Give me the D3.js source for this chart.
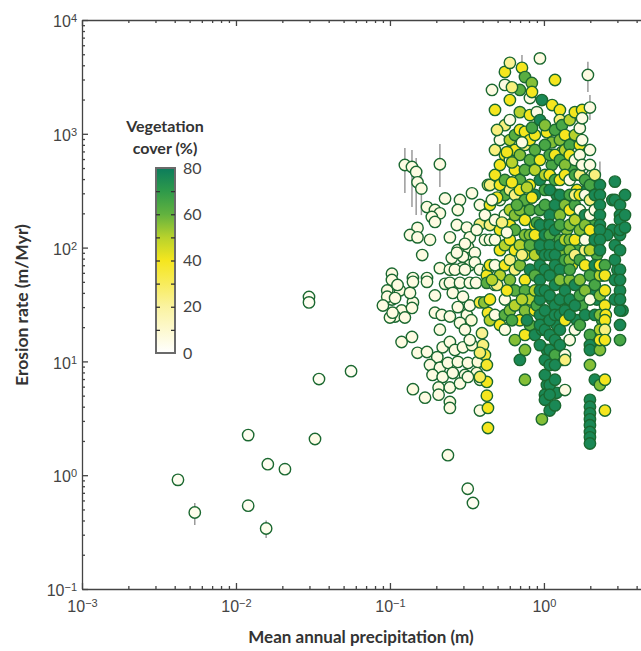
<!DOCTYPE html>
<html><head><meta charset="utf-8">
<script src="https://cdn.jsdelivr.net/npm/d3@7"></script>
<style>
body{margin:0;background:#fff;}
svg{display:block;font-family:Lato,"Open Sans",sans-serif;}
</style>
</head><body>
<svg id="chart" width="641" height="651"></svg>
<script>
// ---- tick labels ----
const xTickValues = [0.001, 0.01, 0.1, 1];
const xTickExponents = ["\u22123", "\u22122", "\u22121", "0"];
const yTickValues = [0.1, 1, 10, 100, 1000, 10000];
const yTickExponents = ["\u22121", "0", "1", "2", "3", "4"];
const vegTicks = [0, 20, 40, 60, 80];
const vegStops = [0, 10, 20, 30, 40, 50, 60, 70, 80];
const vegColors = ["#ffffff", "#fdf9cf", "#faf3a0", "#f8ec5c", "#f5e61e", "#b8d22c", "#62b23f", "#2e9a4a", "#0c7c5c"];

// ---- data: [precipitation (m), erosion rate (m/Myr), vegetation cover (%)] ----
const aridSites = [
[0.0042,0.91,3],[0.0054,0.47,4],[0.012,2.25,3],[0.012,0.54,3],[0.0161,1.25,3],[0.0208,1.13,3],[0.0157,0.34,4],
[0.0298,36.8,3],[0.0298,33,3],[0.0326,2.08,5],[0.0346,7.0,3],[0.0559,8.2,3],[0.238,1.5,5],[0.32,0.76,3],[0.346,0.57,3]];

const highlandSites = [
[0.125,532,6],[0.139,511,6],[0.148,462,6],[0.151,375,6],[0.160,330,6],[0.211,540,6],[0.228,270,6],[0.285,262,6],
[0.341,300,6],[0.174,227,6],[0.196,214,6],[0.211,200,6],[0.187,186,6],[0.196,168,6],[0.151,149,6],[0.135,129,6],
[0.151,123,6],[0.182,117,6],[0.162,86,6],[0.245,123,6],[0.276,214,6],[0.272,158,6],[0.316,150,6],[0.330,123,6],
[0.321,101,6],[0.276,95,6],[0.252,81,6],[0.298,83,6],[0.330,70,6],[0.103,59,6],[0.141,54,6],[0.174,54,6],
[0.211,66,6],[0.228,48,6],[0.307,108,6],[0.272,90,6],[0.356,90,6],[0.356,74,6],[0.384,64,6],[0.294,66,6],
[0.245,64,6],[0.433,64,25],[0.426,57,40],[0.384,237,6],[0.384,160,25],[0.366,143,6],[0.433,355,25],[0.414,117,6],[0.414,193,6]];

const basinSites = [
[0.096,42,6],[0.103,52,6],[0.116,42,6],[0.103,35,6],[0.096,37,6],[0.108,36,6],[0.141,33,6],[0.119,28,6],
[0.108,24.8,6],[0.125,24.3,6],[0.100,24.3,6],[0.135,40,6],[0.139,29.5,6],[0.141,50,6],[0.174,50,6],
[0.119,14.8,6],[0.139,16.4,6],[0.104,26.8,6],[0.090,31,6],[0.112,47,6]];

const piedmontSites = [
[0.196,26.8,6],[0.217,25.6,6],[0.245,24.8,6],[0.276,30,6],[0.316,25.6,6],[0.338,23,8],[0.285,21.8,6],[0.307,19,6],
[0.151,11.9,6],[0.174,12.1,6],[0.203,10.9,6],[0.220,13.3,6],[0.245,14.8,6],[0.264,12.6,6],[0.298,13.3,6],[0.341,13.9,8],
[0.182,9.3,6],[0.211,8.8,6],[0.238,9.7,6],[0.276,9.9,6],[0.321,9.7,6],[0.372,9.9,8],[0.189,7.6,6],[0.220,7.3,6],
[0.256,7.9,6],[0.307,7.6,6],[0.366,7.9,8],[0.141,5.7,6],[0.169,4.8,6],[0.207,5.9,6],[0.245,5.9,6],[0.285,6.4,6],
[0.321,7.3,6],[0.384,6.9,6],[0.207,5.1,6],[0.245,4.4,6],[0.245,3.9,6],[0.384,3.7,6],[0.245,49,6],[0.285,49,6],
[0.330,49,6],[0.362,49,6],[0.256,40,6],[0.298,37,6],[0.330,31,6],[0.196,38,6],[0.211,19,6],[0.330,15.4,6],
[0.264,64,6],[0.307,64,6],
[0.396,17.7,22],[0.402,13.9,25],[0.414,11.4,35],[0.426,9.3,38],[0.426,6.6,40],[0.426,5.0,40],[0.433,3.9,40],
[0.433,2.6,40],[0.384,11.9,28],[0.384,7.3,30],[0.384,33,35],[0.433,26.8,38],[0.426,49,62],[0.41,33,55]];

const transitionSites = [
[0.46,2430,6],[0.446,237,40],[0.446,158,25],[0.446,70,40],[0.446,355,25],[0.446,117,6],[0.446,35,40],[0.446,23,50],
[0.481,1620,40],[0.481,721,25],[0.481,175,6],[0.481,117,6],[0.481,47,6],[0.481,25.6,6],[0.481,435,40],[0.481,70,6],
[0.518,532,40],[0.518,355,40],[0.518,143,40],[0.518,57,50],[0.518,262,6],[0.518,95,40],[0.518,881,6],[0.518,20.9,40],
[0.558,3500,40],[0.558,2690,6],[0.558,393,62],[0.558,290,62],[0.558,193,6],[0.558,105,50],[0.558,70,40],[0.558,35,6],
[0.558,25.6,62],[0.558,19,6],[0.558,1190,25],[0.558,652,40],
[0.601,4200,22],[0.601,1980,40],[0.601,1320,6],[0.601,881,50],[0.601,214,50],[0.601,158,40],[0.601,52,56],[0.601,28,56],
[0.601,589,6],[0.601,117,40],[0.601,78,25],[0.601,321,25],
[0.648,975,62],[0.648,481,40],[0.648,290,25],[0.648,143,62],[0.648,42,62],[0.648,31,50],[0.648,15.4,56],[0.648,95,40],
[0.648,193,56],[0.648,64,25],[0.648,721,40],
[0.72,3800,40],[0.698,2430,62],[0.698,1550,50],[0.698,393,62],[0.698,321,40],[0.698,214,56],[0.698,105,50],[0.698,70,56],
[0.698,23,40],[0.698,10.3,76],[0.698,1080,40],[0.698,652,56],
[0.753,3150,62],[0.753,1040,40],[0.753,481,62],[0.753,262,62],[0.753,175,40],[0.753,86,40],[0.753,52,40],[0.753,42,62],
[0.753,28,56],[0.753,12.6,56],[0.753,6.9,56],[0.753,17.1,40],[0.753,798,25],[0.753,129,56],
[0.811,2060,6],[0.811,1460,40],[0.811,214,62],[0.811,129,56],[0.811,105,62],[0.811,64,76],[0.811,35,50],[0.811,355,40],
[0.811,589,62],[0.811,20.9,62],[0.811,881,40],
[0.834,2800,56],[0.874,975,40],[0.874,158,40],[0.874,86,50],[0.874,57,62],[0.874,42,50],[0.874,28,40],[0.874,129,40],
[0.874,290,76],[0.874,481,50],[0.874,721,62],[0.874,17.1,76]];

const humidSites = [
[0.942,4600,6],[0.97,1980,76],[0.90,1550,6],[0.942,1320,76],[0.942,393,76],[0.942,105,76],[0.942,70,76],[0.942,52,76],
[0.942,35,76],[0.942,25.6,76],[0.942,13.9,76],[0.942,589,40],[0.942,214,65],[0.942,158,76],[0.942,20.9,76],[0.942,42,76],
[1.015,798,65],[1.015,237,65],[1.015,42,76],[1.015,10.3,76],[1.015,7.6,76],[1.015,5.1,76],[0.97,3.1,56],[1.015,4.6,76],
[1.015,19,76],[1.015,28,76],[1.015,64,76],[1.015,86,76],[1.015,129,76],[1.015,321,65],[1.015,435,50],[1.015,1190,56],
[1.09,652,65],[1.09,435,40],[1.09,321,76],[1.09,193,76],[1.09,158,76],[1.09,129,65],[1.09,105,76],[1.09,86,76],
[1.09,57,76],[1.09,38,76],[1.09,12.6,76],[1.09,6.2,76],[1.09,9.3,76],[1.09,23,76],[1.09,17.1,76],[1.09,5.1,76],[1.09,3.7,76],
[1.18,2970,40],[1.13,1790,40],[1.18,652,40],[1.18,393,65],[1.18,237,76],[1.18,86,76],[1.18,47,76],[1.18,31,76],
[1.18,25.6,76],[1.18,11.4,65],[1.18,4.1,76],[1.18,6.9,76],[1.18,15.4,76],[1.18,9.3,76],[1.18,70,76],[1.18,143,76],[1.18,1080,65],
[1.27,1620,40],[1.27,881,56],[1.27,589,65],[1.27,290,76],[1.27,193,56],[1.27,158,65],[1.27,117,65],[1.27,105,76],
[1.27,64,76],[1.27,52,56],[1.27,35,76],[1.27,25.6,76],[1.27,13.9,76],[1.27,19,76],[1.27,393,40],[1.27,1320,25]];

const wetSites = [
[1.31,1190,65],[1.37,975,40],[1.37,532,56],[1.37,435,40],[1.37,237,56],[1.37,42,76],[1.37,28,76],[1.37,23,40],
[1.37,11.4,6],[1.37,5.6,6],[1.37,10.3,25],[1.37,117,50],[1.37,78,65],[1.37,721,50],
[1.47,1320,50],[1.47,798,65],[1.47,652,40],[1.47,290,65],[1.47,158,56],[1.47,117,56],[1.47,95,56],[1.47,78,56],
[1.47,52,56],[1.47,35,76],[1.47,25.6,76],[1.47,15.4,6],[1.47,64,65],[1.47,214,40],[1.47,393,6],
[1.59,1550,40],[1.59,975,50],[1.59,435,65],[1.59,237,65],[1.59,175,50],[1.59,47,76],[1.59,31,76],[1.59,117,40],
[1.59,589,6],[1.59,86,25],[1.59,19,6],[1.59,290,25],
[1.71,1120,6],[1.71,798,40],[1.71,290,40],[1.71,38,65],[1.71,20.9,65],[1.71,78,65],[1.71,143,56],[1.71,435,25],
[1.71,652,6],[1.71,214,6],[1.71,52,56],
[1.77,1620,40],[1.77,1370,6],[1.77,881,6],[1.77,532,6],[1.85,393,65],[1.85,193,76],[1.85,158,56],[1.85,95,25],
[1.85,70,40],[1.85,25.6,76],[1.85,290,6],[1.85,42,56],[1.85,117,6],
[1.93,3290,6],[1.99,1700,6],[1.99,721,6],[1.99,355,65],[1.99,193,6],[1.99,57,65],[1.99,17.1,65],[1.99,13.9,76],
[1.99,12.6,76],[1.99,9.3,56],[1.99,4.6,76],[1.99,4.0,76],[1.99,3.5,76],[1.99,3.1,76],[1.99,2.75,76],[1.99,2.4,76],
[1.99,2.15,76],[1.99,1.9,76],[1.99,532,6],[1.99,262,25],[1.99,95,50],[1.99,35,6],[1.99,143,40],
[2.14,290,76],[2.14,117,76],[2.14,47,65],[2.14,25.6,76],[2.14,6.9,76],[2.14,70,76],[2.14,214,6],[2.14,435,25],
[2.31,355,76],[2.31,290,76],[2.31,237,76],[2.31,193,76],[2.31,158,76],[2.31,143,76],[2.31,117,76],[2.31,95,76],
[2.31,57,50],[2.31,38,56],[2.31,19,50],[2.31,12.6,56],[2.31,6.2,56],[2.31,25.6,56],[2.31,15.4,40],[2.31,70,40]];

const veryWetSites = [
[2.49,70,65],[2.49,57,40],[2.49,31,40],[2.52,25.6,40],[2.49,23,40],[2.49,19,25],[2.49,15.4,40],[2.49,6.9,40],
[2.49,3.7,40],[2.49,42,40],
[2.89,380,76],[2.89,262,76],[2.89,105,76],[2.89,78,76],[2.89,52,76],[2.89,35,76],
[3.12,237,76],[3.12,193,76],[3.12,175,76],[3.12,129,76],[3.12,95,76],[3.12,64,76],[3.12,42,76],[3.12,28,76],
[3.12,20.9,76],[3.12,15.4,65],[3.12,143,76],[3.12,52,76],[3.12,35,76],[3.36,290,76],[3.36,193,76],[3.36,150,76]];

const infillSites = [
[0.496,275,40],[0.534,166,25],[0.575,136,6],[0.62,374,40],[0.668,237,62],[0.72,86,25],[0.776,338,50],[0.836,275,40],
[0.90,166,65],[0.97,95,76],[1.045,158,76],[1.125,532,65],[1.21,290,76],[1.31,86,56],[1.41,143,56],[1.52,70,40],
[1.64,95,65],[1.77,193,25],[1.91,122,40],[2.05,158,65],[2.21,86,65],[2.39,57,40],[0.575,690,40],[0.62,560,50],
[0.72,840,6],[0.836,1130,65],[1.045,1030,40],[1.125,840,56],[1.31,690,40],[1.52,481,65],[1.64,321,40],[1.91,321,76],
[2.05,435,6],[0.496,47,25],[0.575,42,40],[0.62,23,65],[0.72,35,50],[0.776,23,76],[0.90,31,65],[0.97,19,76],
[1.045,12.6,76],[1.125,35,76],[1.21,20.9,76],[1.31,10.3,76],[1.045,6.2,76],[1.21,5.3,76],[1.41,35,76],[1.64,23,76],
[1.77,31,65],[2.05,42,76],[2.21,35,76],[2.39,23,65],[2.78,262,76],[2.78,143,76],[3.0,64,76],[3.24,28,76],
[2.58,129,76],[0.836,2330,40],[0.62,2560,25],[0.496,1080,25],[0.46,262,6],[0.46,52,50]];

// error bars: [precipitation, low, high]
const errorBars = [
[0.125,302,750],[0.139,227,721],[0.148,193,612],[0.160,193,435],[0.211,341,813],[1.93,2330,4300],
[0.72,3500,4920],[1.99,1320,2190],[2.31,272,570],[2.40,83,121],[1.33,690,1190],[3.12,105,290],
[0.0054,0.365,0.57],[0.0157,0.28,0.40]];

const allSites = [].concat(aridSites, highlandSites, basinSites, piedmontSites,
  transitionSites, infillSites, humidSites, wetSites, veryWetSites);

// ---- scales ----
const xMax = 4.27;
const x = d3.scaleLog().domain([0.001, xMax]).range([82, 641]);
const y = d3.scaleLog().domain([0.1, 10000]).range([589, 20]);
const color = d3.scaleLinear().domain(vegStops).range(vegColors).clamp(true);

const svg = d3.select("#chart");
const axisColor = "#444";

const xMinor = x.ticks().filter(v => !xTickValues.some(t => Math.abs(t - v) / t < 1e-6));
const yMinor = y.ticks().filter(v => !yTickValues.some(t => Math.abs(t - v) / t < 1e-6));

function styleAxis(g){
  g.selectAll("path,line").attr("stroke", axisColor).attr("stroke-width", 1.3);
  g.selectAll("text").attr("fill", axisColor);
}
function supLabels(g, exps, dy){
  g.selectAll(".tick text").each(function(d, i){
    const t = d3.select(this); t.text(null).attr("font-size", 16).attr("dy", dy);
    t.append("tspan").text("10");
    t.append("tspan").attr("dy", "-0.45em").attr("font-size", 11).text(exps[i]);
  });
}

// bottom
const gB = svg.append("g").attr("transform", "translate(0,589)");
gB.call(d3.axisBottom(x).tickValues(xTickValues).tickSize(-6).tickSizeOuter(0).tickPadding(13));
supLabels(gB, xTickExponents, "0.6em");
gB.append("g").call(d3.axisBottom(x).tickValues(xMinor).tickSize(-3).tickSizeOuter(0).tickFormat(""))
  .select(".domain").remove();
styleAxis(gB);

// top
const gT = svg.append("g").attr("transform", "translate(0,20)");
gT.call(d3.axisTop(x).tickValues(xTickValues).tickSize(-6).tickSizeOuter(0).tickFormat(""));
gT.append("g").call(d3.axisTop(x).tickValues(xMinor).tickSize(-3).tickSizeOuter(0).tickFormat(""))
  .select(".domain").remove();
styleAxis(gT);

// left
const gL = svg.append("g").attr("transform", "translate(82,0)");
gL.call(d3.axisLeft(y).tickValues(yTickValues).tickSize(-6).tickSizeOuter(0).tickPadding(5));
supLabels(gL, yTickExponents, "0.42em");
gL.append("g").call(d3.axisLeft(y).tickValues(yMinor).tickSize(-3).tickSizeOuter(0).tickFormat(""))
  .select(".domain").remove();
styleAxis(gL);

// titles
svg.append("text").attr("x", 361).attr("y", 643).attr("text-anchor", "middle")
  .attr("font-size", 17).attr("font-weight", "bold").attr("fill", "#333")
  .text("Mean annual precipitation (m)");
svg.append("text").attr("transform", "translate(28,305) rotate(-90)").attr("text-anchor", "middle")
  .attr("font-size", 17.5).attr("font-weight", "bold").attr("fill", "#333")
  .text("Erosion rate (m/Myr)");

// error bars
svg.append("g").selectAll("line").data(errorBars).join("line")
  .attr("x1", d => x(d[0])).attr("x2", d => x(d[0]))
  .attr("y1", d => y(d[1])).attr("y2", d => y(d[2]))
  .attr("stroke", "#9a9a9a").attr("stroke-width", 1.5);

// points
svg.append("g").selectAll("circle").data(allSites).join("circle")
  .attr("cx", d => x(d[0])).attr("cy", d => y(d[1])).attr("r", 5.7)
  .attr("fill", d => color(d[2])).attr("stroke", "#1b6830").attr("stroke-width", 1.4);

// colorbar
const cb = {x: 156, w: 19};
const cScale = d3.scaleLinear().domain([0, 80]).range([353, 168]);
const grad = svg.append("defs").append("linearGradient").attr("id", "vegGrad")
  .attr("x1", 0).attr("y1", 1).attr("x2", 0).attr("y2", 0);
grad.selectAll("stop").data(vegStops).join("stop")
  .attr("offset", d => d / 80).attr("stop-color", d => color(d));
svg.append("rect").attr("x", cb.x).attr("y", cScale(80)).attr("width", cb.w)
  .attr("height", cScale(0) - cScale(80)).attr("fill", "url(#vegGrad)")
  .attr("stroke", "#6a6a6a").attr("stroke-width", 2);
const inner = vegStops.filter(v => v > 0 && v < 80);
const cL = svg.append("g").attr("transform", `translate(${cb.x},0)`)
  .call(d3.axisRight(cScale).tickValues(inner).tickSize(4).tickFormat(""));
cL.select(".domain").remove();
const cR = svg.append("g").attr("transform", `translate(${cb.x + cb.w},0)`)
  .call(d3.axisLeft(cScale).tickValues(inner).tickSize(4).tickFormat(""));
cR.select(".domain").remove();
[cL, cR].forEach(g => g.selectAll("line").attr("stroke", "#333").attr("stroke-width", 1.3));
const cLab = svg.append("g").attr("transform", `translate(${cb.x + cb.w},0)`)
  .call(d3.axisRight(cScale).tickValues(vegTicks).tickSize(0).tickPadding(8));
cLab.select(".domain").remove();
cLab.selectAll("text").attr("font-size", 16).attr("fill", axisColor).attr("font-family", "Lato, sans-serif");

svg.append("text").attr("x", 165).attr("y", 132).attr("text-anchor", "middle")
  .attr("font-size", 16).attr("font-weight", "bold").attr("fill", "#333").text("Vegetation");
svg.append("text").attr("x", 165).attr("y", 154).attr("text-anchor", "middle")
  .attr("font-size", 16).attr("font-weight", "bold").attr("fill", "#333").text("cover (%)");
</script>
</body></html>
